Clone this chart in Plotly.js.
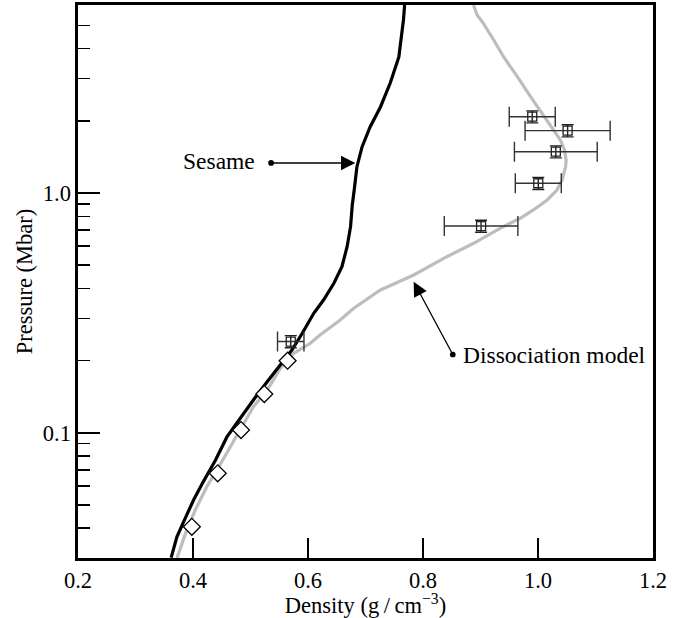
<!DOCTYPE html>
<html>
<head>
<meta charset="utf-8">
<script src="https://cdn.plot.ly/plotly-3.0.1.min.js"></script>
<style>html,body{margin:0;padding:0;background:#fff;}#chart{width:678px;height:618px;}</style>
</head>
<body>
<div id="chart"></div>
<script>
// Sesame EOS curve (density g/cm^3, pressure Mbar)
const sesameDensity = [0.362,0.372,0.385,0.401,0.418,0.439,0.459,0.482,0.505,0.529,0.552,0.572,0.590,0.610,0.627,0.645,0.659,0.668,0.674,0.677,0.681,0.685,0.694,0.708,0.726,0.743,0.758,0.764,0.766,0.768];
const sesamePressure = [0.0301,0.0368,0.0432,0.0524,0.0625,0.0768,0.0960,0.1148,0.1369,0.1632,0.1916,0.2213,0.2599,0.3148,0.3578,0.4201,0.4927,0.597,0.7237,0.891,1.059,1.284,1.556,1.885,2.285,2.877,3.693,4.651,5.268,6.085];

// Dissociation model curve
const dissDensity = [0.372,0.387,0.404,0.424,0.445,0.465,0.485,0.505,0.529,0.552,0.575,0.604,0.621,0.656,0.679,0.726,0.784,0.836,0.888,0.934,0.969,0.992,1.016,1.033,1.042,1.048,1.049,1.046,1.039,1.027,1.010,0.987,0.964,0.940,0.923,0.905,0.894,0.888];
const dissPressure = [0.0299,0.0380,0.0476,0.0595,0.0721,0.0874,0.1059,0.1284,0.1507,0.1856,0.2144,0.2360,0.2557,0.2953,0.3298,0.3938,0.4548,0.5340,0.6168,0.7124,0.7844,0.8495,0.935,1.029,1.133,1.287,1.373,1.512,1.664,1.832,2.081,2.522,3.056,3.704,4.348,5.105,5.529,6.085];

// Gas-gun data (open diamonds)
const gunDensity = [0.398,0.443,0.4835,0.524,0.5645];
const gunPressure = [0.0405,0.0677,0.1026,0.1450,0.1997];

// Laser data with error bars (open squares)
const laserDensity = [0.990,1.0515,1.031,1.0005,0.901,0.570];
const laserPressure = [2.081,1.820,1.487,1.098,0.728,0.240];
const laserDensityErr = [0.040,0.074,0.072,0.040,0.064,0.023];
const laserPressureErr = [0.12,0.105,0.086,0.064,0.042,0.014];

// Axis ticks
const xTickVals = [0.2,0.4,0.6,0.8,1.0,1.2];
const xTickText = ["0.2","0.4","0.6","0.8","1.0","1.2"];
const yTickVals = [0.1,1];
const yTickText = ["0.1","1.0"];
const yMinorVals = [0.04,0.05,0.06,0.07,0.08,0.09,0.2,0.3,0.4,0.5,0.6,0.7,0.8,0.9,2,3,4,5];

const FONT = "Liberation Serif, Times New Roman, serif";

const traces = [
  {x: dissDensity, y: dissPressure, mode: 'lines', line: {color: '#bdbdbd', width: 3.2}, hoverinfo: 'skip', showlegend: false},
  {x: sesameDensity, y: sesamePressure, mode: 'lines', line: {color: '#000', width: 3.2}, hoverinfo: 'skip', showlegend: false},
  {x: gunDensity, y: gunPressure, mode: 'markers', marker: {symbol: 'diamond', size: 13, color: '#fff', line: {color: '#000', width: 1.3}}, showlegend: false},
  {x: laserDensity, y: laserPressure, mode: 'markers',
   marker: {symbol: 'square-open', size: 9, color: '#222', line: {width: 1.3}},
   error_x: {type: 'data', array: laserDensityErr, color: '#333', thickness: 1.4, width: 10},
   error_y: {type: 'data', array: laserPressureErr, color: '#222', thickness: 1.4, width: 6},
   showlegend: false}
];

const layout = {
  width: 678, height: 618,
  margin: {l: 78, r: 25, t: 5, b: 60},
  paper_bgcolor: '#fff', plot_bgcolor: '#fff',
  font: {family: FONT, size: 22, color: '#000'},
  xaxis: {
    range: [0.2, 1.2], tickmode: 'array', tickvals: xTickVals, ticktext: xTickText,
    ticks: 'inside', ticklen: 20, tickwidth: 1.4, tickcolor: '#000',
    showline: true, linewidth: 2.6, linecolor: '#000', mirror: true,
    showgrid: false, zeroline: false,
    tickfont: {family: FONT, size: 22.5},
    title: {text: 'Density (g\u2009/\u2009cm<sup>\u22123</sup>)', font: {family: FONT, size: 22.5}, standoff: 6}
  },
  yaxis: {
    type: 'log', range: [-1.5228, 0.7843], tickmode: 'array', tickvals: yTickVals, ticktext: yTickText,
    ticks: 'inside', ticklen: 22, tickwidth: 1.8, tickcolor: '#000',
    minor: {tickmode: 'array', tickvals: yMinorVals, ticks: 'inside', ticklen: 12, tickwidth: 1.4, tickcolor: '#000', showgrid: false},
    showline: true, linewidth: 2.6, linecolor: '#000', mirror: true,
    showgrid: false, zeroline: false,
    tickfont: {family: FONT, size: 22.5},
    title: {text: 'Pressure (Mbar)', font: {family: FONT, size: 22.5}, standoff: 4}
  },
  annotations: [
    {x: 0.6823, y: 0.1252, ax: 0.5332, ay: 0.1252, xref: 'x', yref: 'y', axref: 'x', ayref: 'y',
     text: '', showarrow: true, arrowside: 'end+start', arrowhead: 2, startarrowhead: 6,
     arrowsize: 2.2, startarrowsize: 1.1, arrowwidth: 1.3, arrowcolor: '#000', standoff: 0, startstandoff: 0},
    {x: 0.7837, y: -0.370, ax: 0.8532, ay: -0.680, xref: 'x', yref: 'y', axref: 'x', ayref: 'y',
     text: '', showarrow: true, arrowside: 'end+start', arrowhead: 2, startarrowhead: 6,
     arrowsize: 2.2, startarrowsize: 1.1, arrowwidth: 1.3, arrowcolor: '#000', standoff: 0, startstandoff: 0},
    {x: 0.5118, y: 0.135, xref: 'x', yref: 'y', text: 'Sesame', showarrow: false, xanchor: 'right', yanchor: 'middle',
     font: {family: FONT, size: 23.5, color: '#000'}},
    {x: 0.8661, y: -0.676, xref: 'x', yref: 'y', text: 'Dissociation model', showarrow: false, xanchor: 'left', yanchor: 'middle',
     font: {family: FONT, size: 23.5, color: '#000'}}
  ]
};

Plotly.newPlot('chart', traces, layout, {displayModeBar: false, staticPlot: true});
</script>
</body>
</html>
